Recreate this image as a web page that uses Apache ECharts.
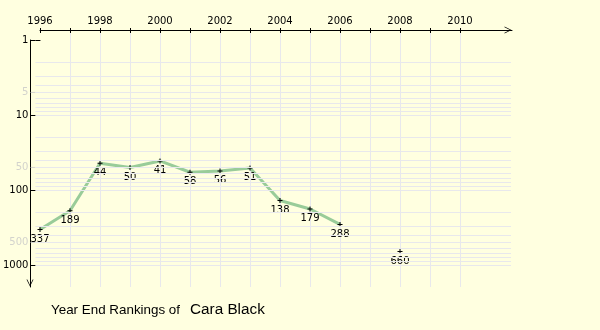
<!DOCTYPE html>
<html>
<head>
<meta charset="utf-8">
<script src="https://cdn.jsdelivr.net/npm/echarts@6/dist/echarts.min.js"></script>
<style>
html,body{margin:0;padding:0;background:#ffffe0;}
#chart{width:600px;height:330px;}
</style>
</head>
<body>
<div id="chart"></div>
<script>
// ---- data ----
const years = [1996, 1997, 1998, 1999, 2000, 2001, 2002, 2003, 2004, 2005, 2006, 2007, 2008];
const ranks = [337, 189, 44, 50, 41, 58, 56, 51, 138, 179, 288, null, 660];
const yearMin = 1996;
const yearMax = 2010;
const xTickLabels = ['1996', '1998', '2000', '2002', '2004', '2006', '2008', '2010'];
const yMinorLabels = [5, 50, 500];
const rankGridLines = [2, 3, 4, 5, 6, 7, 8, 9, 10, 20, 30, 40, 50, 60, 70, 80, 90, 100, 200, 300, 400, 500, 600, 700, 800, 900, 1000];
const titlePrefix = 'Year End Rankings of';
const playerName = 'Cara Black';

const FONT = 'DejaVu Sans';
const chevron = 'path://M0,9L4.5,0L9,9L8,9L4.5,2L1,9Z';
const plus = 'path://M2,0H3V2H5V3H3V5H2V3H0V2H2Z';
const gridColor = '#e8e8ec';

const seriesData = years.map((y, i) => [y, ranks[i] == null ? '-' : ranks[i]]);

const chart = echarts.init(document.getElementById('chart'), null, {renderer: 'canvas'});

chart.setOption({
  backgroundColor: '#ffffe0',
  animation: false,
  title: [
    {text: titlePrefix, left: 51, top: 304, padding: 0,
     textStyle: {fontFamily: 'Liberation Sans', fontSize: 13.4, fontWeight: 'normal', color: '#000'}},
    {text: playerName, left: 190, top: 302, padding: 0,
     textStyle: {fontFamily: 'Liberation Sans', fontSize: 15.3, fontWeight: 'normal', color: '#000'}}
  ],
  grid: [
    {left: 40, top: 40, width: 420, height: 225},   // 0 data
    {left: 30, top: 40, width: 481, height: 225},   // 1 horizontal grid + y labels
    {left: 40, top: 30, width: 420, height: 257},   // 2 x ticks/labels/vertical grid
    {left: 40, top: 30, width: 472, height: 257},   // 3 x axis line
    {left: 30, top: 40, width: 481, height: 247}    // 4 y axis line
  ],
  xAxis: [
    {gridIndex: 0, type: 'value', min: yearMin, max: yearMax, show: false},
    {gridIndex: 1, type: 'value', min: 0, max: 1, show: false},
    {gridIndex: 2, type: 'value', position: 'top', min: yearMin, max: yearMax, interval: 1,
     axisLine: {show: false, onZero: false},
     axisTick: {show: true, inside: true, length: 3, lineStyle: {color: '#000'}},
     axisLabel: {show: true, margin: 4, fontFamily: FONT, fontSize: 10, color: '#000',
       formatter: v => xTickLabels.indexOf(String(v)) >= 0 ? String(v) : ''},
     splitLine: {show: true, showMinLine: false, lineStyle: {color: gridColor, width: 1}}},
    {gridIndex: 2, type: 'value', position: 'top', min: yearMin, max: yearMax, interval: 1,
     axisLine: {show: false, onZero: false},
     axisTick: {show: true, inside: false, length: 2, lineStyle: {color: '#000'}},
     axisLabel: {show: false}, splitLine: {show: false}},
    {gridIndex: 3, type: 'value', position: 'top', min: 0, max: 1,
     axisLine: {show: true, onZero: false, lineStyle: {color: '#000', width: 1}, symbol: ['none', chevron], symbolSize: [7, 8], symbolOffset: [0, -4]},
     axisTick: {show: false}, axisLabel: {show: false}, splitLine: {show: false}},
    {gridIndex: 4, type: 'value', min: 0, max: 1, show: false}
  ],
  yAxis: [
    {gridIndex: 0, type: 'log', logBase: 10, inverse: true, min: 1, max: 1000, show: false},
    {gridIndex: 1, type: 'log', logBase: 10, inverse: true, min: 1, max: 1000, position: 'left',
     axisLine: {show: false, onZero: false},
     axisTick: {show: true, inside: false, length: 5, lineStyle: {color: '#000'}},
     axisLabel: {show: true, margin: 7, fontFamily: FONT, fontSize: 10, color: '#000',
       formatter: v => String(Math.round(v))},
     splitLine: {show: false}},
    {gridIndex: 1, type: 'log', logBase: 10, inverse: true, min: 1, max: 1000, position: 'left',
     axisLine: {show: false, onZero: false},
     axisTick: {show: true, inside: true, length: 5, lineStyle: {color: '#000'}},
     axisLabel: {show: false}, splitLine: {show: false}},
    {gridIndex: 2, type: 'value', min: 0, max: 1, show: false},
    {gridIndex: 3, type: 'value', min: 0, max: 1, show: false},
    {gridIndex: 4, type: 'value', min: 0, max: 1, position: 'left',
     axisLine: {show: true, onZero: false, lineStyle: {color: '#000', width: 1}, symbol: [chevron, 'none'], symbolSize: [7, 8], symbolOffset: [4, 0]},
     axisTick: {show: false}, axisLabel: {show: false}, splitLine: {show: false}}
  ],
  series: [
    {
      type: 'scatter', xAxisIndex: 1, yAxisIndex: 1, clip: false, silent: true,
      data: yMinorLabels.map(v => [0, v]),
      symbol: 'rect', symbolSize: [5, 1], symbolOffset: [-2.5, 0],
      itemStyle: {color: '#c8c8c8'},
      label: {show: true, position: 'left', distance: 2, fontFamily: FONT, fontSize: 10, color: '#c8c8c8',
        formatter: p => String(p.value[1])},
      emphasis: {disabled: true},
      markLine: {
        silent: true, symbol: ['none', 'none'], animation: false,
        label: {show: false},
        lineStyle: {color: gridColor, width: 1, type: 'solid'},
        emphasis: {disabled: true},
        data: rankGridLines.map(v => ({yAxis: v}))
      },
      z: 1
    },
    {
      type: 'line', xAxisIndex: 0, yAxisIndex: 0,
      data: seriesData,
      connectNulls: false,
      showAllSymbol: true,
      symbol: plus, symbolSize: 5,
      itemStyle: {color: '#000'},
      lineStyle: {color: '#99cc99', width: 3},
      label: {show: true, position: 'bottom', distance: 2, fontFamily: FONT, fontSize: 10, color: '#000',
        formatter: p => String(p.value[1])},
      emphasis: {disabled: true},
      clip: false,
      z: 3
    }
  ]
});
</script>
</body>
</html>
